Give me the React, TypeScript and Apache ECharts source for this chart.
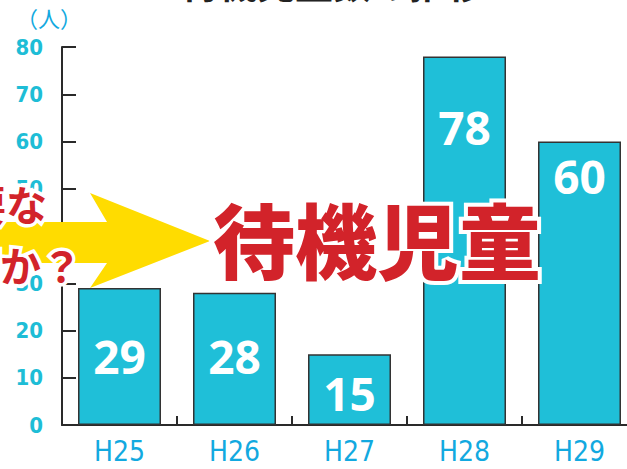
import React, { useEffect, useRef } from "react";
import * as echarts from "echarts";

const categories = ["H25", "H26", "H27", "H28", "H29"];
const values = [29, 28, 15, 78, 60];
const labelDistances = [45, 40, 16, 48, 11];
const yTicks = { min: 0, max: 80, interval: 10 };

export default function App() {
  const ref = useRef<HTMLDivElement>(null);
  useEffect(() => {
    document.body.style.margin = "0";
    const chart = echarts.init(ref.current!, null, { renderer: "svg" });
    const redText = "#d2232a";
    chart.setOption({
      animation: false,
      backgroundColor: "#ffffff",
      grid: { left: 62, top: 47, width: 575, bottom: 44, containLabel: false },
      xAxis: {
        type: "category",
        data: categories,
        axisLine: { show: true, lineStyle: { color: "#2a2a2a", width: 2 } },
        axisTick: { show: true, inside: true, length: 9, lineStyle: { color: "#2a2a2a", width: 2 } },
        axisLabel: {
          color: "#12a9e0",
          fontSize: 28,
          fontFamily: "DejaVu Sans Condensed, Open Sans, sans-serif",
          margin: 12,
        },
      },
      yAxis: {
        type: "value",
        min: yTicks.min,
        max: yTicks.max,
        interval: yTicks.interval,
        axisLine: { show: true, lineStyle: { color: "#2a2a2a", width: 2 } },
        axisTick: { show: true, inside: true, length: 14, lineStyle: { color: "#2a2a2a", width: 2 } },
        splitLine: { show: false },
        axisLabel: {
          color: "#1ebdd6",
          fontSize: 22,
          fontWeight: "bold",
          fontFamily: "DejaVu Sans Condensed, Open Sans, sans-serif",
          margin: 19,
        },
      },
      series: [
        {
          type: "bar",
          barWidth: 83,
          itemStyle: { color: "#1fbfd8", borderColor: "#333333", borderWidth: 1.5 },
          data: values.map((v, i) => ({
            value: v,
            label: {
              show: true,
              position: "insideTop",
              distance: labelDistances[i],
              color: "#ffffff",
              fontSize: 46,
              fontWeight: "bold",
              fontFamily: "Open Sans, sans-serif",
            },
          })),
        },
      ],
      graphic: [
        {
          type: "text",
          z: 100,
          x: 333,
          y: -38,
          style: { text: "待機児童数の推移", align: "center", fill: "#222", font: "bold 38px 'Noto Sans CJK JP'" },
        },
        {
          type: "text",
          z: 100,
          x: 16,
          y: 6,
          style: { text: "（人）", fill: "#12a9e0", font: "22px 'Noto Sans CJK JP'" },
        },
        {
          type: "polygon",
          z: 100,
          shape: {
            points: [
              [0, 222],
              [107, 222],
              [90, 193],
              [210, 241],
              [90, 288],
              [107, 263],
              [0, 263],
            ],
          },
          style: { fill: "#ffdc00" },
        },
        {
          type: "text",
          z: 101,
          x: 47,
          y: 182,
          style: {
            text: "要な",
            align: "right",
            fill: redText,
            stroke: "#ffffff",
            lineWidth: 7,
            strokeFirst: true,
            font: "bold 41px 'Noto Sans CJK JP'",
          },
        },
        {
          type: "text",
          z: 101,
          x: 82,
          y: 243,
          style: {
            text: "何か？",
            align: "right",
            fill: redText,
            stroke: "#ffffff",
            lineWidth: 7,
            strokeFirst: true,
            font: "bold 41px 'Noto Sans CJK JP'",
          },
        },
        {
          type: "text",
          z: 101,
          x: 213,
          y: 196,
          style: {
            text: "待機児童",
            fill: redText,
            stroke: "#ffffff",
            lineWidth: 8,
            strokeFirst: true,
            font: "900 82px 'Noto Sans CJK JP'",
          },
        },
      ],
    });
    return () => chart.dispose();
  }, []);
  return (
    <div style={{ width: 627, height: 469, overflow: "hidden", position: "relative" }}>
      <div ref={ref} style={{ width: 640, height: 469 }} />
    </div>
  );
}
